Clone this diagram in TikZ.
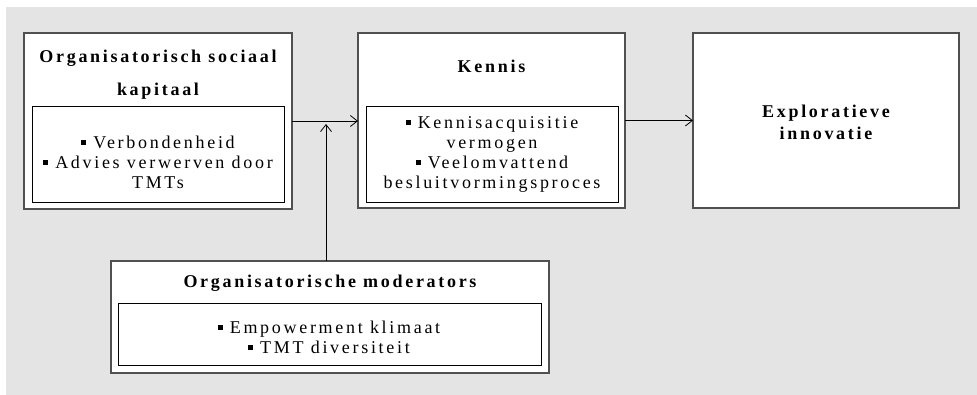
\documentclass[tikz,border=0pt]{standalone}
\usepackage{fontspec}
\setmainfont{Liberation Serif}[LetterSpace=15]
\usetikzlibrary{arrows.meta}
\definecolor{bg}{HTML}{E4E4E4}
\definecolor{frame}{HTML}{505050}
\newcommand\sqb{\raisebox{0.2em}{\rule{0.27em}{0.27em}}\hspace{0.4em}}
\begin{document}
\begin{tikzpicture}[x=1pt,y=-1pt,
  outerbox/.style={draw=frame, line width=1.4pt, fill=white, anchor=north west, inner sep=0pt, outer sep=0pt},
  innerbox/.style={draw=black, line width=0.9pt, fill=white, anchor=north west, inner sep=0pt, outer sep=0pt},
  titletext/.style={align=center, inner sep=0pt, font=\bfseries\fontsize{18}{33}\selectfont},
  bodytext/.style={align=center, inner sep=0pt, font=\fontsize{18}{20}\selectfont},
  arr/.style={-{Straight Barb[length=7pt,width=11pt]}, line width=0.8pt, black}]
\useasboundingbox (0,0) rectangle (977,395);
\fill[bg] (6,7) rectangle (977,395);
% boxes
\node[outerbox, minimum width=268pt, minimum height=176pt] (b1) at (24,33) {};
\node[innerbox, minimum width=252pt, minimum height=96pt] (i1) at (32,106) {};
\node[outerbox, minimum width=267pt, minimum height=175pt] (b2) at (358,33) {};
\node[innerbox, minimum width=252pt, minimum height=96pt] (i2) at (366,106) {};
\node[outerbox, minimum width=266pt, minimum height=175pt] (b3) at (693,33) {};
\node[outerbox, minimum width=438pt, minimum height=112pt] (b4) at (111,261) {};
\node[innerbox, minimum width=423pt, minimum height=62pt] (i4) at (118,303) {};
% texts
\node[titletext] (t1) at (158,74.5) {Organisatorisch sociaal\\kapitaal};
\node[bodytext] (x1) at (158,162) {\sqb Verbondenheid\\\sqb Advies verwerven door\\TMTs};
\node[titletext] (t2) at (491.5,66) {Kennis};
\node[bodytext] (x2) at (492,154.5) {\sqb Kennisacquisitie\\vermogen\\\sqb Veelomvattend\\besluitvormingsproces};
\node[titletext, font=\bfseries\fontsize{18}{22}\selectfont] (t3) at (826,122) {Exploratieve\\innovatie};
\node[titletext] (t4) at (330,283) {Organisatorische moderators};
\node[bodytext] (x4) at (329,337) {\sqb Empowerment klimaat\\\sqb TMT diversiteit};
% connectors
\draw[arr] (b1.east) -- (b1.east -| b2.west);
\draw[arr] (b2.east) -- (b2.east -| b3.west);
\coordinate (j) at (326,124);
\draw[arr] (b4.north -| j) -- (j);
\end{tikzpicture}
\end{document}
